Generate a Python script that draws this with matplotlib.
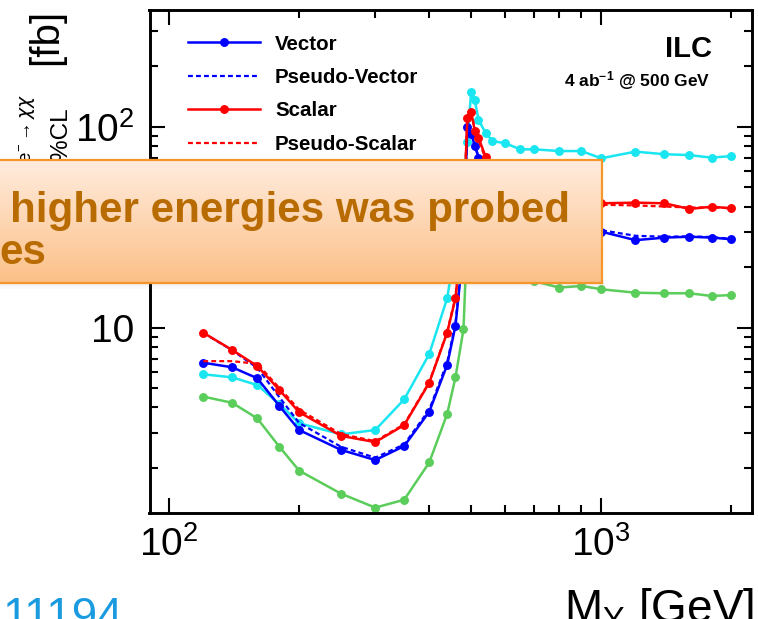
import numpy as np
import matplotlib.pyplot as plt
from matplotlib.lines import Line2D
from matplotlib.patches import Rectangle
from matplotlib.ticker import FuncFormatter, NullFormatter

plt.rcParams['font.family'] = ['Liberation Sans', 'DejaVu Sans']
plt.rcParams['mathtext.fontset'] = 'custom'
plt.rcParams['mathtext.rm'] = 'Liberation Sans'
plt.rcParams['mathtext.it'] = 'Liberation Sans:italic'
plt.rcParams['mathtext.bf'] = 'Liberation Sans:bold'
plt.rcParams['mathtext.sf'] = 'DejaVu Sans:italic'
plt.rcParams['mathtext.default'] = 'regular'

# mediator mass [GeV]
mass = [120, 140, 160, 180, 200, 250, 300, 350, 400, 440, 460, 480, 490, 500, 510,
        520, 540, 560, 600, 650, 700, 800, 900, 1000, 1200, 1400, 1600, 1800, 2000]

# 95% CL cross-section limits [fb]
vector = [6.68, 6.34, 5.59, 4.07, 3.09, 2.46, 2.19, 2.57, 3.81, 6.51, 10.2, 25, 100, 92, 80,
          70, 55, 45, 38, 34, 32.5, 31.5, 31, 30, 27.2, 28.0, 28.3, 28.0, 27.5]
pseudo_vector = [9.4, 7.7, 6.3, 4.5, 3.35, 2.55, 2.25, 2.62, 3.9, 6.7, 10.5, 26, 102, 94, 81,
                 71, 56, 46, 39, 35, 33, 32, 31.5, 30.5, 28.6, 28.3, 28.4, 28.2, 27.6]
scalar = [9.42, 7.73, 6.43, 4.89, 3.79, 2.89, 2.69, 3.27, 5.31, 9.42, 13.97, 35, 110, 118, 95,
          88, 70.8, 60, 52, 47, 45, 43, 42, 41.5, 41.8, 41.5, 38.9, 39.9, 39.2]
pseudo_scalar = [6.8, 6.8, 6.6, 5.0, 3.9, 2.95, 2.72, 3.3, 5.35, 9.5, 14.2, 36, 112, 120, 96,
                 86, 69, 59, 51, 46.5, 44, 42, 41, 40.8, 40.5, 40.0, 39.5, 39.6, 39.2]
series_cyan = [5.85, 5.65, 5.17, 4.16, 3.34, 2.94, 3.09, 4.39, 7.38, 13.97, 25, 55, 84, 149, 135,
               108, 93, 84.7, 82.5, 77, 77, 75.5, 75.5, 69.5, 75, 72.8, 72.1, 70, 71.3]
series_green = [4.53, 4.22, 3.53, 2.55, 1.94, 1.49, 1.27, 1.39, 2.13, 3.71, 5.65, 9.8, 30, 45, 35,
                28, 24, 21, 19, 18, 17, 15.8, 16.1, 15.5, 14.9, 14.8, 14.8, 14.35, 14.5]

W, H = 758, 619
fig = plt.figure(figsize=(W / 100, H / 100), dpi=100)

def fx(px):
    return px / W

def fy(py):
    return 1 - py / H

ax = fig.add_axes([fx(149.5), fy(513.3), fx(752) - fx(149.5), fy(10) - fy(513.3)])

BLUE, RED, CYAN, GREEN = '#0000ff', '#ff0000', '#19e6f0', '#5acd5a'
lw, ms = 1.8, 5.4
dots = (0, (2.2, 1.4))

ax.plot(mass, series_green, '-o', color=GREEN, lw=lw, ms=ms)
ax.plot(mass, series_cyan, '-o', color=CYAN, lw=lw, ms=ms)
ax.plot(mass, vector, '-o', color=BLUE, lw=lw, ms=ms)
ax.plot(mass, pseudo_vector, color=BLUE, lw=1.6, ls=dots)
ax.plot(mass, scalar, '-o', color=RED, lw=lw, ms=ms)
ax.plot(mass, pseudo_scalar, color=RED, lw=1.6, ls=dots)

ax.set_xscale('log')
ax.set_yscale('log')
ax.set_xlim(90.1, 2233)
ax.set_ylim(1.19, 380)

for s in ax.spines.values():
    s.set_linewidth(2.1)
ax.tick_params(which='both', direction='in', top=True, right=True, width=1.5)
ax.tick_params(which='major', length=11, labelsize=28)
ax.tick_params(which='minor', length=6)
ax.tick_params(axis='x', pad=9)
ax.tick_params(axis='y', pad=11)

def log_label(v, pos):
    e = int(round(np.log10(v)))
    return '10' if e == 1 else r'$10^{%d}$' % e

ax.xaxis.set_major_formatter(FuncFormatter(log_label))
ax.yaxis.set_major_formatter(FuncFormatter(log_label))
ax.xaxis.set_minor_formatter(NullFormatter())
ax.yaxis.set_minor_formatter(NullFormatter())

handles = [
    Line2D([], [], color=BLUE, lw=lw, marker='o', ms=ms, markevery=[1], label='Vector'),
    Line2D([], [], color=BLUE, lw=1.6, ls=dots, label='Pseudo-Vector'),
    Line2D([], [], color=RED, lw=lw, marker='o', ms=ms, markevery=[1], label='Scalar'),
    Line2D([], [], color=RED, lw=1.6, ls=dots, label='Pseudo-Scalar'),
]
ax.legend(handles=handles, loc='upper left', bbox_to_anchor=(0.064, 0.951), frameon=False,
          prop={'weight': 'bold', 'size': 14.8}, handlelength=3.5, handletextpad=0.73,
          labelspacing=0.70, borderpad=0, borderaxespad=0, numpoints=1)

fig.text(fx(712), fy(57), 'ILC', ha='right', va='baseline', fontsize=21, fontweight='bold')
fig.text(fx(710), fy(86.5), r'4 ab$^{\mathbf{-1}}$ @ 500 GeV', ha='right', va='baseline',
         fontsize=12.5, fontweight='bold')

# axis titles (ROOT style, partly cut by the slide edge)
fig.text(fx(754), fy(622), r'$M_{Y}$ [GeV]', ha='right', va='baseline', fontsize=33)
ylab = dict(rotation=90, ha='center', va='top')
fig.text(fx(46), fy(9), '[fb]', fontsize=29, **ylab)
fig.text(fx(27), fy(94), r'$e^{+}e^{-}\rightarrow\mathsf{\chi\chi}$', fontsize=13.5, **ylab)
fig.text(fx(61), fy(106), '95%CL', fontsize=17.5, **ylab)

# slide overlay callout
x0, x1, y0, y1 = -8, 601.7, 160, 283
for k, a in enumerate([0.10, 0.07, 0.04]):
    fig.patches.append(Rectangle((fx(x0 + 2), fy(y1 + 2 + 2 * k)), fx(x1) - fx(x0), 2 / H,
                                 transform=fig.transFigure, color='gray', alpha=a, lw=0, zorder=4))
box = fig.add_axes([fx(x0), fy(y1), fx(x1) - fx(x0), fy(y0) - fy(y1)])
box.set_zorder(5)
top_c = np.array([255, 236, 222]) / 255
bot_c = np.array([252, 192, 136]) / 255
t = np.linspace(0, 1, 128)[:, None, None]
grad = top_c * (1 - t) + bot_c * t
box.imshow(np.repeat(grad, 2, axis=1), aspect='auto', extent=[0, 1, 0, 1], interpolation='bilinear')
box.set_xticks([])
box.set_yticks([])
for s in box.spines.values():
    s.set_color('#f5962a')
    s.set_linewidth(1.6)

callout = dict(ha='left', va='baseline', fontsize=30.3, fontweight='bold',
               color='#b86b00', zorder=6)
fig.text(fx(10), fy(222), 'higher energies was probed', **callout)
fig.text(fx(-1), fy(264), 'es', **callout)

fig.text(fx(3), fy(630), '11194', ha='left', va='baseline', fontsize=33, color='#1a9be0')

fig.savefig('out.png', dpi=100)
